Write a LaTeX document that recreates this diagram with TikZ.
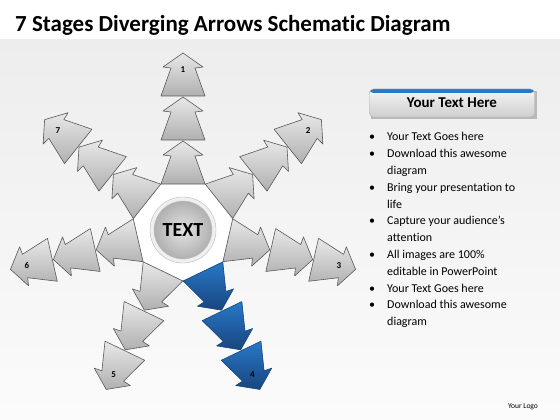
\documentclass[tikz,border=0pt]{standalone}
\usepackage{fontspec}
\setmainfont{Carlito}[Ligatures=NoCommon]
\usetikzlibrary{calc}
\definecolor{armblue}{RGB}{40,120,200}
\definecolor{armdark}{RGB}{24,70,126}
\tikzset{
  seg/.style={draw=gray!70!black, line width=0.6pt, line join=round, top color=gray!18, bottom color=gray!62},
  segblue/.style={draw=armdark, line width=0.6pt, line join=round, top color=armblue, bottom color=armdark},
  headbox/.style={rounded corners=4pt, minimum width=165pt, minimum height=28pt, draw=gray!60,
    top color=gray!8, bottom color=gray!38, font=\bfseries\fontsize{15}{18}\selectfont,
    path picture={\fill[armblue] ([yshift=-4pt]path picture bounding box.north west) rectangle (path picture bounding box.north east);}}
}

\begin{document}
\begin{tikzpicture}[x=1pt,y=1pt]
            \useasboundingbox (0,0) rectangle (560,420);
            \fill[white] (0,0) rectangle (560,420);
            \shade[top color=gray!14, bottom color=gray!3] (0,0) rectangle (560,380);
            \node[anchor=base west, inner sep=0pt, font=\bfseries\fontsize{23}{27}\selectfont] (title) at (15,388) {7 Stages Diverging Arrows Schematic Diagram};
            \coordinate (C) at (183,190);
            \draw[shift={(C)}, fill=white, draw=gray!45] (90+180/7:51) \foreach \i in {1,...,6}{ -- ({90+180/7+\i*360/7}:51)} -- cycle;
            \foreach \k in {1,...,7}{
                \pgfmathsetmacro{\ang}{90-(\k-1)*360/7}
                \ifnum\k=4 \def\segsty{segblue}\else\def\segsty{seg}\fi
                \foreach \d in {46,90,134}{
                    \draw[\segsty, shift={(C)}, rotate=\ang] (\d,-22) -- (\d+28,-12) -- (\d+29,-20) -- (\d+43,0) -- (\d+29,20) -- (\d+28,12) -- (\d,22) -- cycle;
                }
                \node[font=\bfseries\fontsize{9}{10}\selectfont] (lab\k) at ($(C)+(\ang:160)$) {\k};
            }
            \fill[gray!12, draw=gray!55] (C) circle[radius=33];
            \node[circle, minimum size=58pt, inner color=gray!22, outer color=gray!62, draw=gray!50, font=\bfseries\fontsize{20}{24}\selectfont] (hub) at (C) {TEXT};
            \fill[gray!55] (371,301) rectangle (537,329);
            \node[headbox] (head) at (452,317) {Your Text Here};
            \node[anchor=base west, inner sep=0pt, font=\fontsize{12}{16.8}\selectfont] (list) at (369,279) {\begin{tabular}[t]{@{}p{18pt}@{}l@{}}
                \textbullet & Your Text Goes here\\
                \textbullet & Download this awesome\\
                & diagram\\
                \textbullet & Bring your presentation to\\
                & life\\
                \textbullet & Capture your audience’s\\
                & attention\\
                \textbullet & All images are 100\%\\
                & editable in PowerPoint\\
                \textbullet & Your Text Goes here\\
                \textbullet & Download this awesome\\
                & diagram
            \end{tabular}};
            \node[font=\fontsize{7.5}{9}\selectfont] (logo) at (523,13) {Your Logo};
        \end{tikzpicture}
\end{document}
